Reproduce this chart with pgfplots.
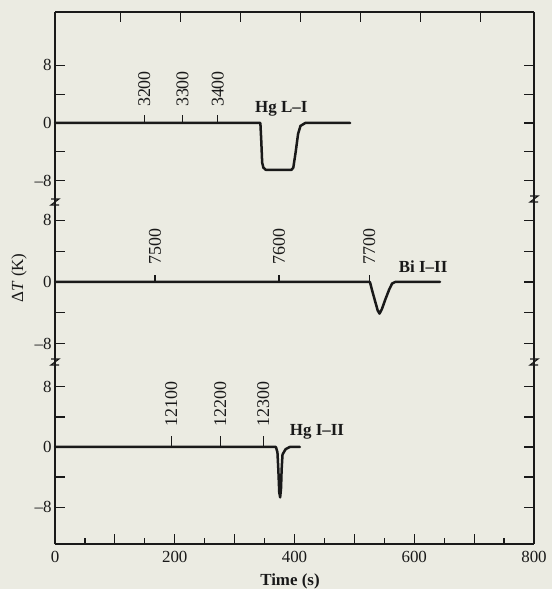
\documentclass[border=0pt]{standalone}
\usepackage{pgfplots}
\pgfplotsset{compat=1.18}
\usepackage{fontspec}
\setmainfont{Liberation Serif}
\definecolor{paper}{RGB}{235,235,226}
\definecolor{ink}{RGB}{25,25,25}
\tikzset{
  rlabel/.style={rotate=90, anchor=west, inner sep=0pt, font=\fontsize{18}{20}\selectfont, text=ink},
  slabel/.style={anchor=base west, inner sep=0pt, font=\fontsize{17}{19}\selectfont\bfseries, text=ink},
}
\pgfplotsset{
  every non boxed x axis/.style={},
  every non boxed y axis/.style={},
  panel/.style={
    scale only axis, width=479bp, anchor=origin,
    xmin=0, xmax=800,
    axis y line=box,
    axis line style={-, line width=1.4bp, ink},
    x axis line style={-}, y axis line style={-},
    tick align=inside,
    major tick length=10bp, minor tick length=6bp,
    every tick/.append style={ink, line width=1.2bp},
    ytick={-8,-4,0,4,8},
    yticklabels={–8,,0,,8},
    ytick pos=both, yticklabel pos=left,
    tick label style={font=\fontsize{17}{19}\selectfont, text=ink},
    xticklabel style={yshift=-4bp},
    clip=false,
  },
  curve/.style={ink, line width=2.5bp, line join=round, line cap=round, mark=none},
  marker/.style={ink, line width=1.2bp, ycomb, mark=none},
}
\begin{document}
\begin{tikzpicture}[x=1bp,y=1bp]
\fill[paper] (0,0) rectangle (552,589);
\path[use as bounding box] (0,0) rectangle (552,589);
% ---------- panel 1: Hg L-I ----------
\begin{axis}[panel, at={(55bp,466bp)}, height=188bp,
  ymin=-10.7, ymax=15.4,
  axis x line=top,
  xtick={110,210,310,410,510,610,710}, xticklabels={,,,,,,}]
\addplot[curve] coordinates {(0,0) (343,0) (344.5,-2.5) (346,-5.5) (348,-6.2) (352,-6.5) (395,-6.5) (398,-6.2) (402,-4) (406,-1.5) (410,-0.4) (418,0) (493,0)};
\addplot[marker] coordinates {(149,1.1) (213,1.1) (272,1.1)};
\node[rlabel] at (axis cs:149,2.2) {3200};
\node[rlabel] at (axis cs:213,2.2) {3300};
\node[rlabel] at (axis cs:272,2.2) {3400};
\node[slabel] at (axis cs:334,1.4) {Hg L–I};
\end{axis}
% ---------- panel 2: Bi I-II ----------
\begin{axis}[panel, at={(55bp,307bp)}, height=162bp,
  ymin=-10.4, ymax=10.6,
  axis x line=none]
\addplot[curve] coordinates {(0,0) (526,0) (530,-1.2) (535,-2.6) (539,-3.7) (542,-4.1) (546,-3.5) (552,-2.2) (558,-1) (563,-0.2) (568,0) (643,0)};
\addplot[marker] coordinates {(167,0.9) (374,0.9) (525,0.9)};
\node[rlabel] at (axis cs:167,2.2) {7500};
\node[rlabel] at (axis cs:374,2.2) {7600};
\node[rlabel] at (axis cs:525,2.2) {7700};
\node[slabel] at (axis cs:574,1.2) {Bi I–II};
\end{axis}
% ---------- panel 3: Hg I-II ----------
\begin{axis}[panel, at={(55bp,142bp)}, height=182bp,
  ymin=-12.9, ymax=11.3,
  axis x line=bottom,
  xtick={0,100,...,800}, xticklabels={0,,200,,400,,600,,800},
  minor x tick num=1]
\addplot[curve] coordinates {(0,0) (369,0) (371.5,-0.7) (373,-3) (374.5,-6.0) (376,-6.7) (377.5,-5.5) (378.5,-3) (380,-1) (385,-0.3) (392,0) (409,0)};
\addplot[marker] coordinates {(194,1.4) (276,1.4) (348,1.4)};
\node[rlabel] at (axis cs:194,2.7) {12100};
\node[rlabel] at (axis cs:276,2.7) {12200};
\node[rlabel] at (axis cs:348,2.7) {12300};
\node[slabel] at (axis cs:392,1.5) {Hg I–II};
\end{axis}
% axis labels
\node[rotate=90, font=\fontsize{17}{19}\selectfont, text=ink] at (19,311) {Δ\textit{T} (K)};
\node[font=\fontsize{17}{19}\selectfont\bfseries, text=ink] at (290,8) {Time (s)};
% axis break marks
\foreach \bx/\by in {55/387, 534/390, 55/227, 534/227}{
  \draw[ink, line width=1.1bp, line join=miter] (\bx-4,\by+3) -- (\bx+4,\by+3) -- (\bx-4,\by-3) -- (\bx+4,\by-3);
}
\end{tikzpicture}
\end{document}
